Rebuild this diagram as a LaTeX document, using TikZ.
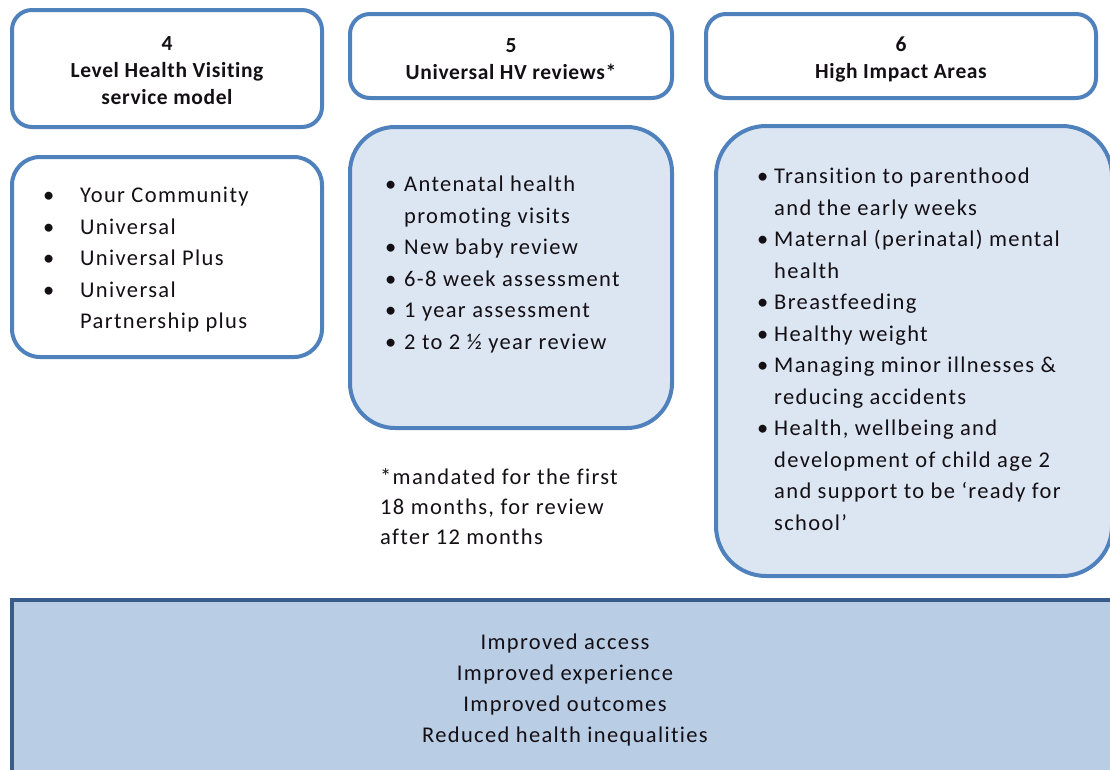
\documentclass[tikz,border=0pt]{standalone}
\usepackage{fontspec}
\setmainfont{Carlito}[LetterSpace=6,Ligatures=NoCommon]
\newfontfamily\headf{Carlito}[LetterSpace=3,Ligatures=NoCommon]
\definecolor{bord}{RGB}{79,129,189}
\definecolor{lightfill}{RGB}{220,230,242}
\definecolor{botfill}{RGB}{185,205,229}
\definecolor{botbord}{RGB}{56,93,138}
\definecolor{txt}{RGB}{20,15,20}
\newcommand\bulA{\makebox[37pt][l]{\textbullet}}
\newcommand\bulB{\makebox[19pt][l]{\textbullet}}
\newcommand\bulC{\makebox[17pt][l]{\textbullet}}
\begin{document}
\begin{tikzpicture}[x=1pt,y=-1pt,
 hbox/.style={draw=bord,line width=4pt,rounded corners=20pt,fill=white,inner sep=0pt},
 htext/.style={align=center,font=\headf\fontsize{21.5}{27}\selectfont\bfseries,text=txt,inner sep=0pt},
 lbox/.style={draw=bord,line width=4pt,inner sep=0pt},
 ltext/.style={anchor=north west,align=left,inner sep=0pt,
   font=\fontsize{22.5}{31.5}\selectfont,text=txt},
 btext/.style={align=center,inner sep=0pt,font=\fontsize{22.5}{31}\selectfont,text=txt}]
\useasboundingbox (0,0) rectangle (1110,769);
\clip (0,0) rectangle (1110,769);
% header boxes
\node[hbox,minimum width=310pt,minimum height=117pt] (h4) at (167,68.5) {};
\node[hbox,minimum width=322pt,minimum height=84pt] (h5) at (511,56) {};
\node[hbox,minimum width=390pt,minimum height=84pt] (h6) at (901,56) {};
\node[htext] (h4t) at ([yshift=-2.5pt]h4.center) {4\\Level Health Visiting\\service model};
\node[htext] (h5t) at ([yshift=-3pt]h5.center) {5\\Universal HV reviews*};
\node[htext] (h6t) at ([yshift=-3pt]h6.center) {6\\High Impact Areas};
% list boxes
\node[lbox,fill=white,rounded corners=28pt,minimum width=310pt,minimum height=200pt] (b4) at (167,257) {};
\node[lbox,fill=lightfill,rounded corners=45pt,minimum width=322pt,minimum height=301pt] (b5) at (511,277.5) {};
\node[lbox,fill=lightfill,rounded corners=50pt,minimum width=396pt,minimum height=450pt] (b6) at (914,351) {};
% list texts
\node[ltext] (t4) at (43,187) {\bulA Your Community\\\bulA Universal\\\bulA Universal Plus\\\bulA Universal\\\hphantom{\bulA}Partnership plus};
\node[ltext] (t5) at (385,176) {\bulB Antenatal health\\\hphantom{\bulB}promoting visits\\\bulB New baby review\\\bulB 6-8 week assessment\\\bulB 1 year assessment\\\bulB 2 to 2 ½ year review};
\node[ltext] (t6) at (757,168) {\bulC Transition to parenthood\\\hphantom{\bulC}and the early weeks\\\bulC Maternal (perinatal) mental\\\hphantom{\bulC}health\\\bulC Breastfeeding\\\bulC Healthy weight\\\bulC Managing minor illnesses \&\\\hphantom{\bulC}reducing accidents\\\bulC Health, wellbeing and\\\hphantom{\bulC}development of child age 2\\\hphantom{\bulC}and support to be ‘ready for\\\hphantom{\bulC}school’};
% footnote
\node[ltext,font=\fontsize{22.5}{30}\selectfont] (fn) at (380,468) {*mandated for the first\\18 months, for review\\after 12 months};
% bottom box
\node[draw=botbord,line width=4pt,fill=botfill,minimum width=1113pt,minimum height=185pt,inner sep=0pt] (bot) at (568.5,692.5) {};
\node[btext] (bt) at (565,690) {Improved access\\Improved experience\\Improved outcomes\\Reduced health inequalities};
\end{tikzpicture}
\end{document}
